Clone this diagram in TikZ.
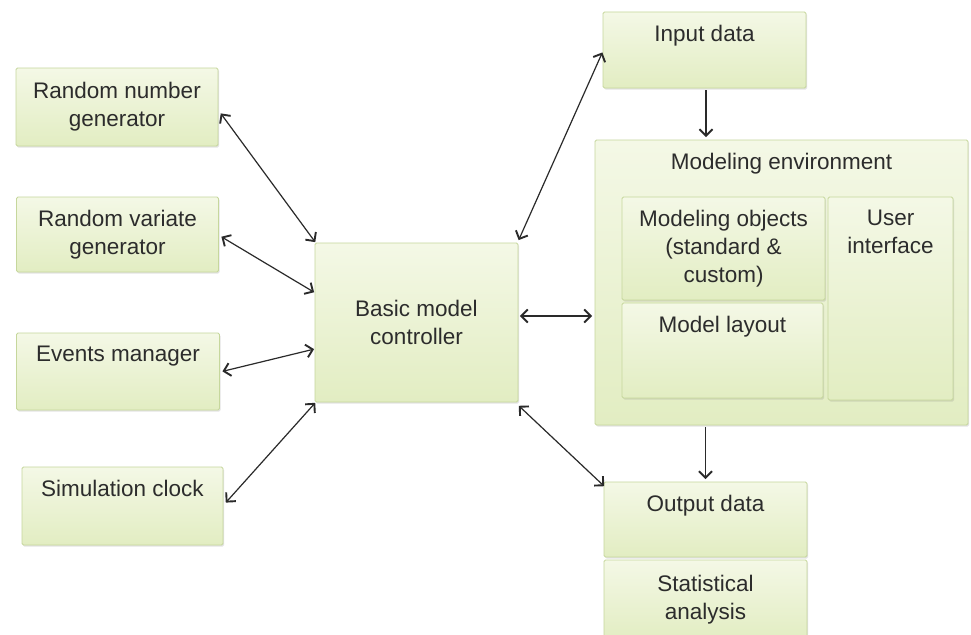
\documentclass[tikz,border=0pt]{standalone}
\usepackage{fontspec}
\setmainfont{Liberation Sans}
\usetikzlibrary{arrows.meta,shadows}
\definecolor{gtop}{HTML}{F4F8E6}
\definecolor{gbot}{HTML}{E2EDC2}
\definecolor{boxline}{HTML}{C6D79C}
\definecolor{txt}{HTML}{2C2C2C}
\definecolor{arr}{HTML}{2A2A2A}
\tikzset{
  box/.style={draw=boxline, line width=0.9pt, top color=gtop, bottom color=gbot,
    rounded corners=1.5pt, inner sep=2pt, align=center, text=txt,
    font=\fontsize{22.5}{28}\selectfont,
    drop shadow={opacity=0.22, shadow xshift=1pt, shadow yshift=-1.5pt}},
  toptext/.style={label={[anchor=north, yshift=-13.5pt, inner sep=0pt, text=txt,
    align=center, font=\fontsize{22.5}{28}\selectfont]north:#1}},
  dbl/.style={arr, line width=1.2pt, {Straight Barb[length=6.5pt,width=13pt,line width=1.9pt]}-{Straight Barb[length=6.5pt,width=13pt,line width=1.9pt]}, shorten <=0.5pt, shorten >=0.5pt},
  sgl/.style={arr, line width=1.2pt, -{Straight Barb[length=6.5pt,width=13pt,line width=1.9pt]}, shorten >=0.5pt}
}
\begin{document}
\begin{tikzpicture}[x=1pt,y=-1pt]
\clip (0,0) rectangle (971,634);
\fill[white] (0,0) rectangle (971,634);
% left column
\node[box, minimum width=202pt, minimum height=78pt] (rng) at (117,107) {Random number\\generator};
\node[box, minimum width=202pt, minimum height=75pt] (rvg) at (117.5,234.5) {Random variate\\generator};
\node[box, minimum width=203pt, minimum height=77pt, toptext={Events manager}] (ev) at (118,371.5) {};
\node[box, minimum width=201pt, minimum height=78pt, toptext={Simulation clock}] (sim) at (122.5,506) {};
% controller
\node[box, minimum width=203pt, minimum height=159pt] (bmc) at (416.5,322.5) {Basic model\\controller};
% right column
\node[box, minimum width=203pt, minimum height=76pt, toptext={Input data}] (inp) at (704.5,50) {};
\node[box, minimum width=373pt, minimum height=285pt, toptext={Modeling environment}] (env) at (781.5,282.5) {};
\node[box, minimum width=203pt, minimum height=103pt] (obj) at (723.5,248.5) {Modeling objects\\(standard \&\\custom)};
\node[box, minimum width=201pt, minimum height=95pt, toptext={Model layout}] (lay) at (722.5,350.5) {};
\node[box, minimum width=125pt, minimum height=203pt, toptext={User\\interface}] (ui) at (890.5,298.5) {};
\node[box, minimum width=203pt, minimum height=75pt, toptext={Output data}] (out) at (705.5,519.5) {};
\node[box, minimum width=203pt, minimum height=80pt] (stat) at (705.5,600) {Statistical\\analysis};
% connectors
\draw[dbl] ([xshift=2pt,yshift=-6pt]rng.east) -- ([xshift=1pt]bmc.north west);
\draw[dbl] ([xshift=2pt,yshift=-2pt]rvg.east) -- ([yshift=30pt]bmc.west);
\draw[dbl] ([xshift=2pt]ev.east) -- ([yshift=-26.5pt]bmc.west);
\draw[dbl] ([xshift=2pt,yshift=3pt]sim.east) -- ([xshift=1pt]bmc.south west);
\draw[dbl] ([yshift=2pt]bmc.north east) -- ([yshift=-2pt]inp.west);
\draw[dbl] ([xshift=1pt,yshift=6.5pt]bmc.east) -- ([xshift=-2pt,yshift=-33.5pt]env.west);
\draw[dbl] ([yshift=-3pt]bmc.south east) -- ([xshift=1pt,yshift=-5pt]out.north west);
\draw[sgl] ([xshift=1.5pt,yshift=-2pt]inp.south) -- ([xshift=1.5pt,yshift=2pt]inp.south |- env.north);
\draw[sgl] ([yshift=-2pt]out.north |- env.south) -- ([yshift=2pt]out.north);
\end{tikzpicture}
\end{document}
